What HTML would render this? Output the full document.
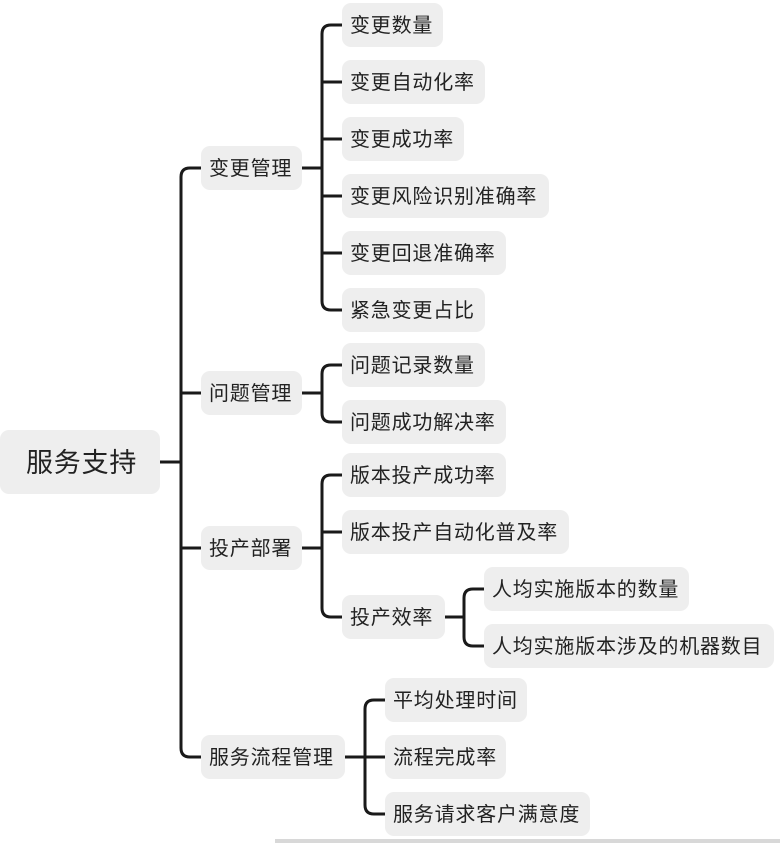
<!DOCTYPE html>
<html><head><meta charset="utf-8"><style>
html,body{margin:0;padding:0;background:#fff;width:780px;height:844px;overflow:hidden;position:relative}
.n{position:absolute;height:44px;line-height:47px;background:#eeeeee;border-radius:9px;font-family:"Liberation Sans","Noto Sans CJK SC",sans-serif;font-size:20px;color:#222;padding-left:8px;box-sizing:border-box;white-space:nowrap;letter-spacing:0.8px}
svg{position:absolute;left:0;top:0}
</style></head><body>
<svg width="780" height="844" fill="none" stroke="#1a1a1a" stroke-width="3">
<path d="M160 462 H181"/>
<path d="M201 168 H190 Q181 168 181 177 V748 Q181 757 190 757 H201"/>
<path d="M181 393 H201 M181 548 H201"/>
<path d="M302 168 H322"/>
<path d="M342 25 H331 Q322 25 322 34 V301 Q322 310 331 310 H342"/>
<path d="M322 82 H342 M322 139 H342 M322 196 H342 M322 253 H342"/>
<path d="M302 393 H322"/>
<path d="M342 365 H331 Q322 365 322 374 V413 Q322 422 331 422 H342"/>
<path d="M302 548 H322"/>
<path d="M342 475 H331 Q322 475 322 484 V608 Q322 617 331 617 H342"/>
<path d="M322 532 H342"/>
<path d="M445 617 H464"/>
<path d="M484 589 H473 Q464 589 464 598 V637 Q464 646 473 646 H484"/>
<path d="M345 757 H365"/>
<path d="M385 700 H374 Q365 700 365 709 V805 Q365 814 374 814 H385"/>
<path d="M365 757 H385"/>
<path d="M275 841 H780" stroke="#d8d8d8" stroke-width="4"/>
</svg>
<div class="n" style="left:0;top:430px;width:160px;height:64px;line-height:67px;font-size:27px;padding-left:26px">服务支持</div>
<div class="n" style="left:201px;top:146px;width:101px">变更管理</div>
<div class="n" style="left:201px;top:371px;width:101px">问题管理</div>
<div class="n" style="left:201px;top:526px;width:101px">投产部署</div>
<div class="n" style="left:201px;top:735px;width:144px">服务流程管理</div>
<div class="n" style="left:342px;top:3px;width:101px">变更数量</div>
<div class="n" style="left:342px;top:60px;width:143px">变更自动化率</div>
<div class="n" style="left:342px;top:117px;width:122px">变更成功率</div>
<div class="n" style="left:342px;top:174px;width:207px">变更风险识别准确率</div>
<div class="n" style="left:342px;top:231px;width:164px">变更回退准确率</div>
<div class="n" style="left:342px;top:288px;width:143px">紧急变更占比</div>
<div class="n" style="left:342px;top:343px;width:143px">问题记录数量</div>
<div class="n" style="left:342px;top:400px;width:164px">问题成功解决率</div>
<div class="n" style="left:342px;top:453px;width:164px">版本投产成功率</div>
<div class="n" style="left:342px;top:510px;width:227px">版本投产自动化普及率</div>
<div class="n" style="left:342px;top:595px;width:103px">投产效率</div>
<div class="n" style="left:484px;top:567px;width:205px">人均实施版本的数量</div>
<div class="n" style="left:484px;top:624px;width:290px">人均实施版本涉及的机器数目</div>
<div class="n" style="left:385px;top:678px;width:142px">平均处理时间</div>
<div class="n" style="left:385px;top:735px;width:121px">流程完成率</div>
<div class="n" style="left:385px;top:792px;width:205px">服务请求客户满意度</div>
</body></html>
